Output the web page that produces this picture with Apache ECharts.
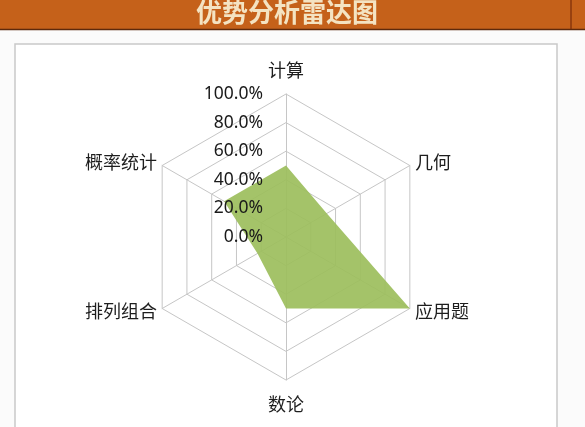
<!DOCTYPE html>
<html>
<head>
<meta charset="utf-8">
<script src="https://cdn.jsdelivr.net/npm/echarts@6/dist/echarts.min.js"></script>
<style>
  html, body { margin: 0; padding: 0; background: #fbfbfb; }
  #chart { width: 585px; height: 427px; }
</style>
</head>
<body>
<div id="chart"></div>
<script>
// Data (indicators listed counter-clockwise from the top, as ECharts lays them out)
const titleText = '优势分析雷达图';
const indicatorNames = ['计算', '概率统计', '排列组合', '数论', '应用题', '几何'];
const scoreValues = [50, 50, 23, 50, 100, 33];
const scaleMax = 100;
const scaleStep = 20;

const chart = echarts.init(document.getElementById('chart'), null, { renderer: 'canvas' });

const cx = 286, cy = 237, R = 143;

chart.setOption({
  animation: false,
  backgroundColor: '#fbfbfb',
  title: {
    text: titleText,
    left: 196,
    top: -1,
    padding: 0,
    textStyle: {
      fontFamily: 'Noto Sans CJK SC',
      fontSize: 26,
      fontWeight: 'bold',
      color: '#F4E3C2'
    }
  },
  graphic: [
    { type: 'rect', z: -10, shape: { x: 15, y: 44, width: 542, height: 400 },
      style: { fill: '#ffffff', stroke: '#c9c9c9', lineWidth: 1.5 } },
    { type: 'rect', z: -10, shape: { x: 0, y: 0, width: 585, height: 29 },
      style: { fill: '#C5611A' } },
    { type: 'line', z: -9, shape: { x1: 0, y1: 29.5, x2: 585, y2: 29.5 },
      style: { stroke: '#5e2a0c', lineWidth: 1.5 } },
    { type: 'line', z: -9, shape: { x1: 571, y1: 0, x2: 571, y2: 29 },
      style: { stroke: '#7a2c0a', lineWidth: 1.2 } }
  ],
  grid: { left: cx, top: cy - R, width: 1, height: R, containLabel: false },
  xAxis: { type: 'value', show: false, min: 0, max: 1 },
  yAxis: {
    type: 'value',
    z: 20,
    min: 0,
    max: scaleMax,
    interval: scaleStep,
    axisLine: { show: false },
    axisTick: { show: false },
    splitLine: { show: false },
    axisLabel: {
      margin: 23,
      fontFamily: 'Noto Sans',
      fontSize: 17.5,
      color: '#1a1a1a',
      formatter: v => v.toFixed(1) + '%'
    }
  },
  radar: {
    center: [cx, cy],
    radius: R,
    startAngle: 90,
    splitNumber: 5,
    shape: 'polygon',
    nameGap: 6,
    indicator: indicatorNames.map(n => ({ name: n, min: 0, max: scaleMax })),
    axisName: {
      color: '#1e1e1e',
      fontFamily: 'Noto Sans CJK SC',
      fontSize: 18,
      lineHeight: 36
    },
    splitLine: { lineStyle: { color: '#c6c6c6', width: 1 } },
    splitArea: { show: false },
    axisLine: { lineStyle: { color: '#c6c6c6', width: 1 } },
    axisTick: { show: false },
    axisLabel: { show: false }
  },
  series: [{
    type: 'radar',
    z: 2,
    symbol: 'none',
    lineStyle: { width: 0, color: '#9CBE5C' },
    areaStyle: { color: '#9CBE5C', opacity: 0.92 },
    data: [{ value: scoreValues, name: '得分' }]
  }]
});
</script>
</body>
</html>
